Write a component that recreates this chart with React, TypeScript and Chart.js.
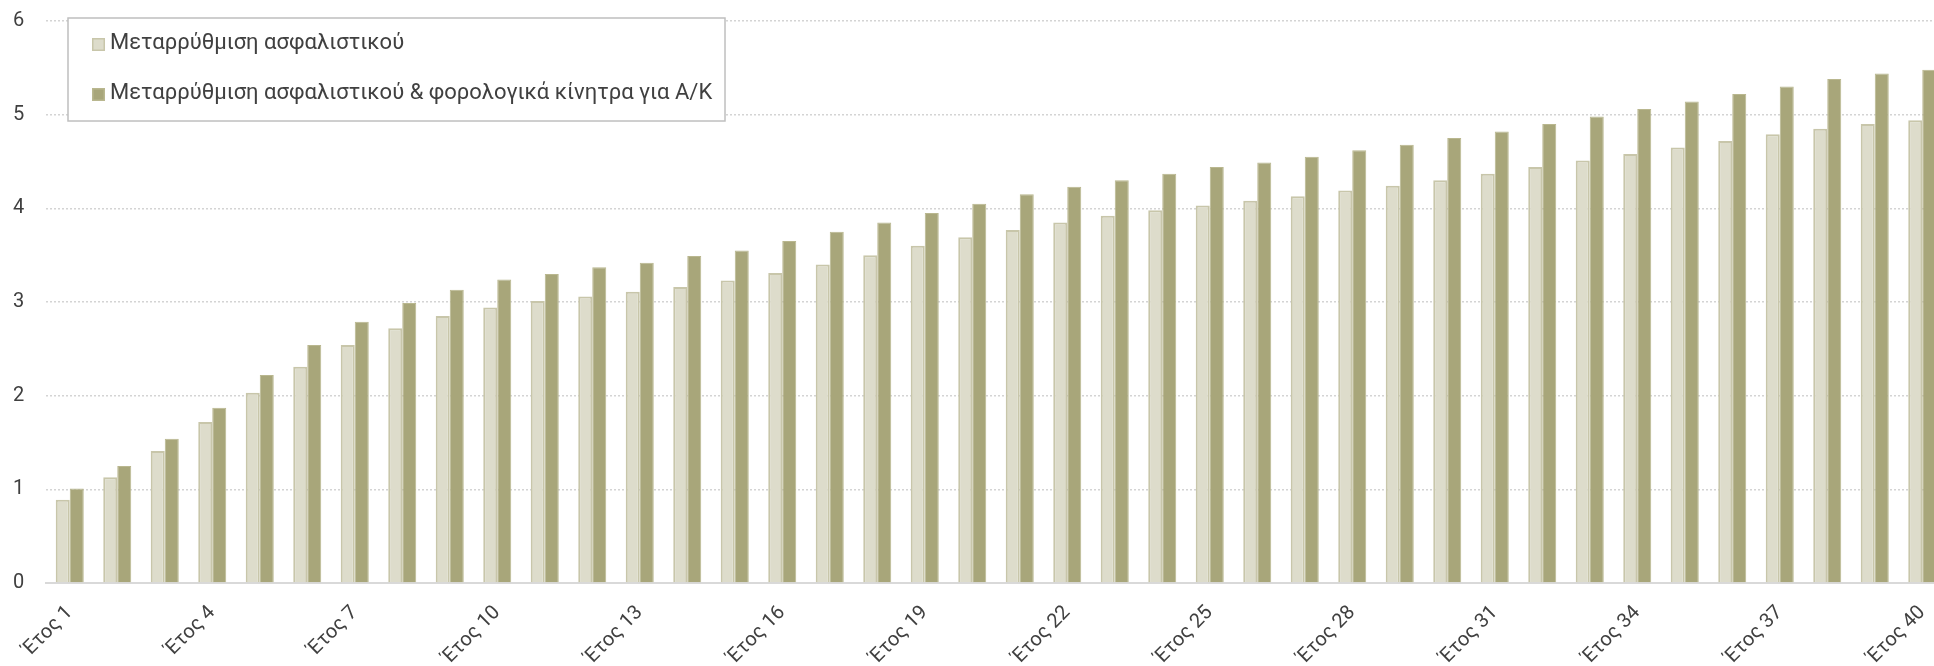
import React, { useEffect, useRef } from "react";
import { Chart, registerables } from "chart.js";

Chart.register(...registerables);

const categories = [
  "Έτος 1", "Έτος 2", "Έτος 3", "Έτος 4", "Έτος 5", "Έτος 6", "Έτος 7", "Έτος 8", "Έτος 9", "Έτος 10",
  "Έτος 11", "Έτος 12", "Έτος 13", "Έτος 14", "Έτος 15", "Έτος 16", "Έτος 17", "Έτος 18", "Έτος 19", "Έτος 20",
  "Έτος 21", "Έτος 22", "Έτος 23", "Έτος 24", "Έτος 25", "Έτος 26", "Έτος 27", "Έτος 28", "Έτος 29", "Έτος 30",
  "Έτος 31", "Έτος 32", "Έτος 33", "Έτος 34", "Έτος 35", "Έτος 36", "Έτος 37", "Έτος 38", "Έτος 39", "Έτος 40",
];

const seriesLabels = [
  "Μεταρρύθμιση ασφαλιστικού",
  "Μεταρρύθμιση ασφαλιστικού & φορολογικά κίνητρα για Α/Κ",
];

const pensionReform = [
  0.89, 1.13, 1.41, 1.72, 2.03, 2.31, 2.54, 2.72, 2.85, 2.94,
  3.01, 3.06, 3.11, 3.16, 3.23, 3.31, 3.40, 3.50, 3.60, 3.69,
  3.77, 3.85, 3.92, 3.98, 4.03, 4.08, 4.13, 4.19, 4.24, 4.30,
  4.37, 4.44, 4.51, 4.58, 4.65, 4.72, 4.79, 4.85, 4.90, 4.94,
];

const pensionAndTaxIncentives = [
  1.01, 1.25, 1.54, 1.87, 2.22, 2.54, 2.79, 2.99, 3.13, 3.24,
  3.30, 3.37, 3.42, 3.49, 3.55, 3.65, 3.75, 3.85, 3.95, 4.05,
  4.15, 4.23, 4.30, 4.37, 4.44, 4.49, 4.55, 4.62, 4.68, 4.75,
  4.82, 4.90, 4.98, 5.06, 5.14, 5.22, 5.30, 5.38, 5.44, 5.48,
];

const yMin = 0;
const yMax = 6;
const yStep = 1;
const xLabelEvery = 3;

const FONT = "Roboto, 'Noto Sans', sans-serif";
const TEXT = "#404040";

export default function App() {
  const ref = useRef<HTMLCanvasElement>(null);

  useEffect(() => {
    document.body.style.overflow = "hidden";

    const legendBox = {
      id: "legendBox",
      afterDraw(chart: any) {
        const ctx = chart.ctx;
        ctx.save();
        ctx.fillStyle = "#ffffff";
        ctx.fillRect(68, 18, 657, 103);
        ctx.strokeStyle = "#bfbfbf";
        ctx.lineWidth = 1.5;
        ctx.strokeRect(68, 18, 657, 103);
        const rows = [44, 94];
        chart.data.datasets.forEach((ds: any, i: number) => {
          const cy = rows[i];
          ctx.fillStyle = ds.backgroundColor;
          ctx.fillRect(92, cy - 6, 13, 13);
          ctx.strokeStyle = ds.borderColor;
          ctx.lineWidth = 1.5;
          ctx.strokeRect(92.75, cy - 5.25, 11.5, 11.5);
          ctx.fillStyle = TEXT;
          ctx.font = `22px ${FONT}`;
          ctx.textBaseline = "middle";
          ctx.textAlign = "left";
          ctx.fillText(ds.label, 110, cy - 1);
        });
        ctx.restore();
      },
    };

    const chart = new Chart(ref.current as HTMLCanvasElement, {
      type: "bar",
      data: {
        labels: categories,
        datasets: [
          {
            label: seriesLabels[0],
            data: pensionReform,
            backgroundColor: "#dddccb",
            borderColor: "#c8c6aa",
            borderWidth: 2,
            categoryPercentage: 0.59,
            barPercentage: 1,
          },
          {
            label: seriesLabels[1],
            data: pensionAndTaxIncentives,
            backgroundColor: "#a8a67a",
            borderColor: "#b9b78f",
            borderWidth: 1,
            categoryPercentage: 0.59,
            barPercentage: 1,
          },
        ],
      },
      options: {
        responsive: false,
        animation: false,
        layout: { padding: { top: 21, left: 13, right: 0, bottom: 0 } },
        plugins: {
          legend: { display: false },
          title: { display: false },
          tooltip: { enabled: false },
        },
        scales: {
          x: {
            grid: { display: false },
            border: { display: true, color: "#d9d9d9", width: 2 },
            ticks: {
              autoSkip: false,
              minRotation: 45,
              maxRotation: 45,
              padding: 10,
              color: TEXT,
              font: { family: FONT, size: 20 },
              callback: (_v: any, i: number) => (i % xLabelEvery === 0 ? categories[i] : ""),
            },
            afterFit: (s: any) => {
              s.height = 83;
              s.paddingLeft = 0;
              s.paddingRight = 0;
            },
          },
          y: {
            min: yMin,
            max: yMax,
            ticks: {
              stepSize: yStep,
              padding: 2,
              crossAlign: "far",
              color: TEXT,
              font: { family: FONT, size: 20 },
            },
            grid: {
              color: "#d4d4d4",
              lineWidth: 1.5,
              drawTicks: false,
            },
            border: { display: false, dash: [2, 2] },
            afterFit: (s: any) => {
              s.width = 33;
            },
          },
        },
      },
      plugins: [legendBox],
    });
    return () => chart.destroy();
  }, []);

  return (
    <div
      style={{
        position: "fixed",
        left: 0,
        top: 0,
        width: 1934,
        height: 666,
        overflow: "hidden",
        background: "#ffffff",
      }}
    >
      <canvas ref={ref} width={1946} height={666} style={{ display: "block", width: 1946, height: 666 }} />
    </div>
  );
}
